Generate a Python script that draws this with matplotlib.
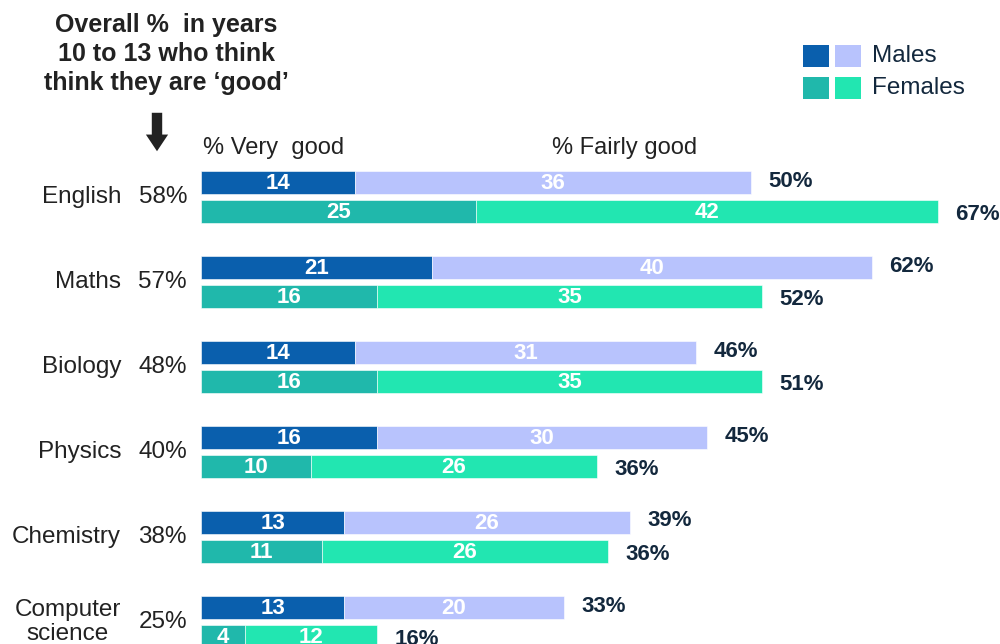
import matplotlib
matplotlib.use("Agg")
import matplotlib.pyplot as plt
from matplotlib.patches import Rectangle

subjects = ['English', 'Maths', 'Biology', 'Physics', 'Chemistry', 'Computer\nscience']
overall = [58, 57, 48, 40, 38, 25]
male_very = [14, 21, 14, 16, 13, 13]
male_fairly = [36, 40, 31, 30, 26, 20]
male_total = [50, 62, 46, 45, 39, 33]
female_very = [25, 16, 16, 10, 11, 4]
female_fairly = [42, 35, 35, 26, 26, 12]
female_total = [67, 52, 51, 36, 36, 16]

C_MV = '#0a5fad'
C_MF = '#b8c3fd'
C_FV = '#20b8ab'
C_FF = '#22e6b1'
TXT = '#222222'
NAVY = '#13283d'

plt.rcParams['font.family'] = ['Liberation Sans', 'DejaVu Sans']

W, H = 1000, 644
fig = plt.figure(figsize=(W / 100, H / 100), dpi=100)
ax = fig.add_axes([0, 0, 1, 1])
PX = 11.0          # pixels per percentage unit
X0 = 201           # pixel of zero
ax.set_xlim(-X0 / PX, (W - X0) / PX)
ax.set_ylim(H, 0)
ax.axis('off')

ROW0, STEP, GAP, BH = 182.5, 85, 29, 23
ym = [ROW0 + STEP * i for i in range(len(subjects))]
yf = [y + GAP for y in ym]

ax.barh(ym, male_very, height=BH, color=C_MV, edgecolor='white', linewidth=0.4)
ax.barh(ym, male_fairly, left=male_very, height=BH, color=C_MF, edgecolor='white', linewidth=0.4)
ax.barh(yf, female_very, height=BH, color=C_FV, edgecolor='white', linewidth=0.4)
ax.barh(yf, female_fairly, left=female_very, height=BH, color=C_FF, edgecolor='white', linewidth=0.4)

vfont = dict(fontsize=16, fontweight='bold', color='white', ha='center', va='center')
tfont = dict(fontsize=16, fontweight='bold', color=NAVY, ha='left', va='center')
for i in range(len(subjects)):
    ax.text(male_very[i] / 2, ym[i] + 1, str(male_very[i]), **vfont)
    ax.text(male_very[i] + male_fairly[i] / 2, ym[i] + 1, str(male_fairly[i]), **vfont)
    ax.text(female_very[i] / 2, yf[i] + 1, str(female_very[i]), **vfont)
    ax.text(female_very[i] + female_fairly[i] / 2, yf[i] + 1, str(female_fairly[i]), **vfont)
    ax.text(male_very[i] + male_fairly[i] + 1.6, ym[i] - 1.5, f'{male_total[i]}%', **tfont)
    ax.text(female_very[i] + female_fairly[i] + 1.6, yf[i] + 3, f'{female_total[i]}%', **tfont)
    yc = (ym[i] + yf[i]) / 2
    ax.text((121 - X0) / PX, yc, subjects[i], fontsize=17.5, color=TXT, ha='right', va='center',
            multialignment='center', linespacing=1.15)
    ax.text((187 - X0) / PX, yc, f'{overall[i]}%', fontsize=17.5, color=TXT, ha='right', va='center')

# column headers
ax.text((203 - X0) / PX, 148, '% Very  good', fontsize=17, color=TXT, ha='left', va='center')
ax.text((625 - X0) / PX, 148, '% Fairly good', fontsize=17, color=TXT, ha='center', va='center')

# top-left title
ax.text((166 - X0) / PX, 54, "Overall %  in years\n10 to 13 who think\nthink they are \u2018good\u2019",
        fontsize=18, fontweight='bold', color=TXT, ha='center', va='center',
        linespacing=1.27)

# arrow
ax.annotate('', xy=((157 - X0) / PX, 154), xytext=((157 - X0) / PX, 110),
            arrowprops=dict(arrowstyle='simple,head_width=1.6,head_length=1.2,tail_width=0.75',
                            color='#222222', lw=0))

# legend
def sq(px, py, c):
    ax.add_patch(Rectangle(((px - X0) / PX, py), 26 / PX, 22, color=c, lw=0))
sq(803, 45, C_MV); sq(835, 45, C_MF)
sq(803, 77, C_FV); sq(835, 77, C_FF)
ax.text((872 - X0) / PX, 56, 'Males', fontsize=17.5, color=NAVY, ha='left', va='center')
ax.text((872 - X0) / PX, 88, 'Females', fontsize=17.5, color=NAVY, ha='left', va='center')

fig.savefig('out.png', dpi=100)
